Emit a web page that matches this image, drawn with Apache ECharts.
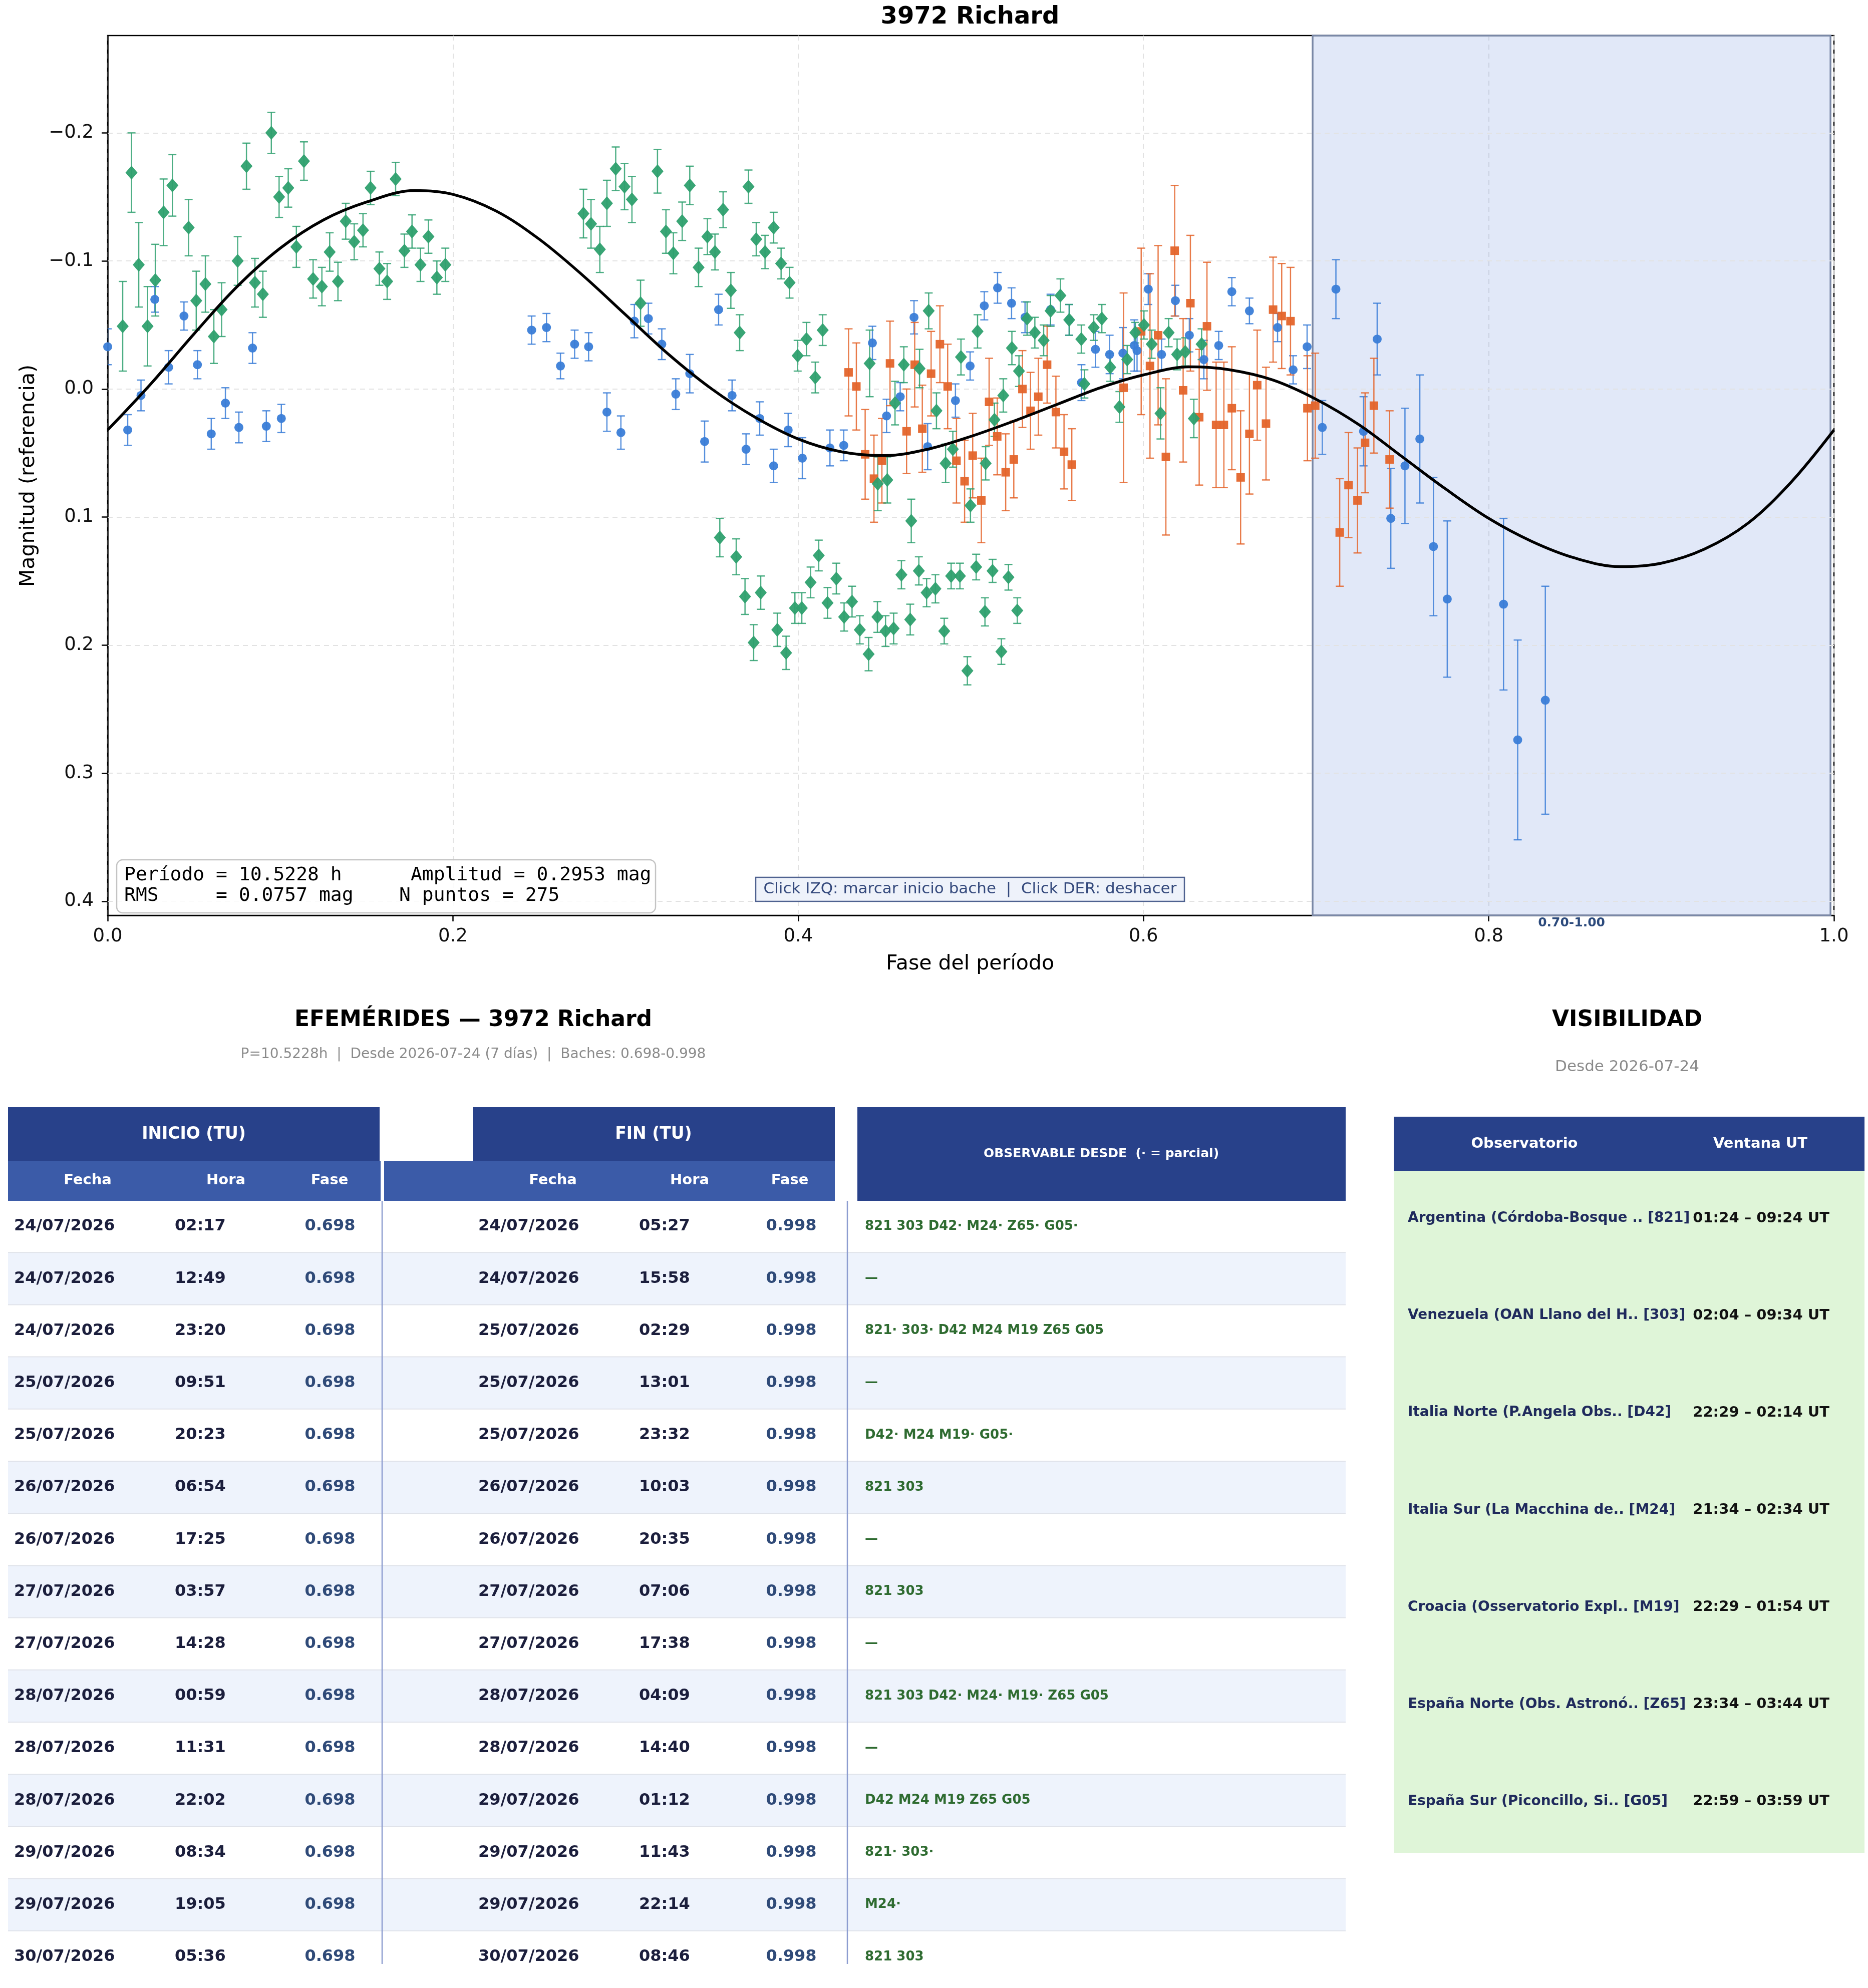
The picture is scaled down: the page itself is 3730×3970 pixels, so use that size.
<!DOCTYPE html>
<html>
<head>
<meta charset="utf-8">
<script src="https://cdn.jsdelivr.net/npm/echarts@6/dist/echarts.min.js"></script>
<style>
  html, body { margin: 0; padding: 0; background: #fff; }
  #main { width: 3730px; height: 3970px; }
</style>
</head>
<body>
<div id="main"></div>
<script>
// --- curva de ajuste (incluye los extremos) ---
const fitPhase = [0, 0.025, 0.05, 0.075, 0.1, 0.125, 0.15, 0.178, 0.2, 0.225, 0.25, 0.275, 0.3, 0.325, 0.35, 0.375, 0.4, 0.425, 0.45, 0.475, 0.5,
  0.525, 0.55, 0.575, 0.6, 0.627, 0.65, 0.675, 0.7, 0.725, 0.75, 0.775, 0.8, 0.825, 0.85, 0.876, 0.9, 0.925, 0.95, 0.975, 1.0];
const fitMag = [0.032, -0.004, -0.043, -0.080, -0.110, -0.132, -0.146, -0.155, -0.152, -0.139, -0.117, -0.089, -0.058, -0.027, 0.000, 0.022, 0.039, 0.049, 0.052, 0.047, 0.037,
  0.025, 0.012, -0.001, -0.011, -0.0173, -0.015, -0.007, 0.008, 0.028, 0.053, 0.078, 0.101, 0.119, 0.132, 0.1387, 0.136, 0.125, 0.105, 0.073, 0.032];

// --- sesión azul (círculos) ---
const bluePhase = [0.000, 0.0116, 0.0193, 0.0273, 0.0353, 0.0442, 0.052, 0.060, 0.0682, 0.076, 0.0839, 0.0919, 0.1006,
  0.2456, 0.2542, 0.2623, 0.2705, 0.2786, 0.2892, 0.2973, 0.3051, 0.3132, 0.321, 0.3291, 0.3372, 0.3458, 0.3539, 0.3617,
  0.3698, 0.3777, 0.3858, 0.3942, 0.4024, 0.4184, 0.4264, 0.443, 0.4512, 0.4591, 0.4671, 0.475, 0.4911, 0.4996, 0.5078,
  0.5155, 0.5236, 0.5314, 0.5462,
  0.557, 0.5641, 0.5722, 0.5804, 0.5881, 0.5947, 0.5963, 0.6028, 0.6105, 0.6185, 0.6266, 0.635, 0.6436, 0.6512, 0.6614, 0.6777, 0.6867,
  0.6948, 0.7036, 0.7115, 0.7275, 0.7354, 0.7433, 0.7515, 0.7601, 0.768, 0.776, 0.8086, 0.8168, 0.8328];
const blueMag = [-0.033, 0.032, 0.005, -0.070, -0.017, -0.057, -0.019, 0.035, 0.011, 0.030, -0.032, 0.029, 0.023,
  -0.046, -0.048, -0.018, -0.035, -0.033, 0.018, 0.034, -0.053, -0.055, -0.035, 0.004, -0.012, 0.041, -0.062, 0.005,
  0.047, 0.023, 0.060, 0.032, 0.054, 0.046, 0.044, -0.036, 0.021, 0.006, -0.056, 0.045, 0.009, -0.018, -0.065,
  -0.079, -0.067, -0.056, -0.062,
  -0.054, -0.005, -0.031, -0.027, -0.028, -0.034, -0.030, -0.078, -0.027, -0.069, -0.042, -0.023, -0.034, -0.076, -0.061, -0.048, -0.015,
  -0.033, 0.030, -0.078, 0.033, -0.039, 0.101, 0.060, 0.039, 0.123, 0.164, 0.168, 0.274, 0.243];
const blueErr = [0.014, 0.012, 0.012, 0.010, 0.013, 0.011, 0.011, 0.012, 0.012, 0.012, 0.012, 0.012, 0.011,
  0.011, 0.011, 0.010, 0.011, 0.011, 0.015, 0.013, 0.013, 0.012, 0.012, 0.012, 0.015, 0.016, 0.012, 0.012,
  0.012, 0.013, 0.013, 0.013, 0.016, 0.014, 0.012, 0.013, 0.013, 0.011, 0.013, 0.018, 0.013, 0.011, 0.011,
  0.012, 0.012, 0.012, 0.012,
  0.012, 0.014, 0.014, 0.015, 0.020, 0.020, 0.016, 0.012, 0.012, 0.012, 0.013, 0.015, 0.011, 0.011, 0.010, 0.011, 0.011,
  0.017, 0.021, 0.023, 0.027, 0.028, 0.039, 0.045, 0.050, 0.054, 0.061, 0.067, 0.078, 0.089];

// --- sesión verde (rombos) ---
const greenPhase = [0.0087, 0.0138, 0.018, 0.0231, 0.0276, 0.0324, 0.0375, 0.0469, 0.0513, 0.0566,
  0.0615, 0.066, 0.0753, 0.0804, 0.0853, 0.0899, 0.0948, 0.0993, 0.1046, 0.1093,
  0.1137, 0.119, 0.1241, 0.1286, 0.1334, 0.1379, 0.1428, 0.1479, 0.1523, 0.1574,
  0.1619, 0.1668, 0.1719, 0.1763, 0.1812, 0.1858, 0.1907, 0.1956,
  0.2756, 0.28, 0.2851, 0.2892, 0.2943, 0.2994, 0.3037, 0.3087, 0.3185, 0.3234,
  0.3277, 0.3328, 0.3372, 0.3423, 0.3474, 0.3518, 0.3565, 0.361, 0.3661, 0.3712,
  0.3757, 0.3808, 0.3858, 0.3901, 0.395, 0.3997, 0.4048, 0.4099, 0.4142,
  0.3546, 0.3641, 0.3692, 0.3742, 0.3783, 0.3879, 0.393, 0.3981, 0.4021, 0.4072,
  0.4119, 0.417, 0.4221, 0.4266, 0.4312, 0.4357, 0.4408, 0.4459, 0.4506, 0.4553,
  0.4598, 0.4649, 0.4699, 0.4744, 0.4795, 0.4846, 0.4886, 0.4937, 0.498, 0.5031,
  0.5082, 0.5126, 0.5177, 0.5218, 0.5269,
  0.4414, 0.4461, 0.4516, 0.4561, 0.4612, 0.4655, 0.4703, 0.4756, 0.4801, 0.4854,
  0.4896, 0.4943, 0.4998, 0.5039, 0.5086, 0.5137, 0.5188, 0.5238, 0.5279, 0.5326,
  0.5371, 0.5422, 0.5462,
  0.5519, 0.557, 0.564, 0.5658, 0.5712, 0.5759, 0.5808, 0.5861, 0.5906, 0.5953,
  0.6003, 0.6048, 0.6099, 0.6146, 0.6195, 0.6242, 0.6292, 0.6337];
const greenMag = [-0.049, -0.169, -0.097, -0.049, -0.085, -0.138, -0.159, -0.126, -0.069, -0.082,
  -0.041, -0.062, -0.100, -0.174, -0.083, -0.074, -0.200, -0.150, -0.157, -0.111,
  -0.178, -0.086, -0.080, -0.107, -0.084, -0.131, -0.115, -0.124, -0.157, -0.094,
  -0.084, -0.164, -0.108, -0.123, -0.097, -0.119, -0.087, -0.097,
  -0.137, -0.129, -0.109, -0.145, -0.172, -0.158, -0.148, -0.067, -0.170, -0.123,
  -0.106, -0.131, -0.159, -0.095, -0.119, -0.107, -0.140, -0.077, -0.044, -0.158,
  -0.117, -0.107, -0.126, -0.098, -0.083, -0.026, -0.039, -0.009, -0.046,
  0.116, 0.131, 0.162, 0.198, 0.159, 0.188, 0.206, 0.171, 0.171, 0.151,
  0.130, 0.167, 0.148, 0.178, 0.166, 0.188, 0.207, 0.178, 0.189, 0.187,
  0.145, 0.180, 0.142, 0.159, 0.156, 0.189, 0.146, 0.146, 0.220, 0.139,
  0.174, 0.142, 0.205, 0.147, 0.173,
  -0.020, 0.074, 0.071, 0.011, -0.019, 0.103, -0.016, -0.061, 0.017, 0.058,
  0.047, -0.025, 0.091, -0.045, 0.058, 0.024, 0.005, -0.032, -0.014, -0.055,
  -0.044, -0.038, -0.061,
  -0.073, -0.054, -0.039, -0.004, -0.048, -0.055, -0.017, 0.014, -0.023, -0.044,
  -0.050, -0.035, 0.019, -0.044, -0.027, -0.029, 0.023, -0.035];
const greenErr = [0.035, 0.031, 0.033, 0.031, 0.028, 0.026, 0.024, 0.022, 0.023, 0.022,
  0.021, 0.021, 0.019, 0.018, 0.019, 0.018, 0.016, 0.016, 0.015, 0.016,
  0.015, 0.015, 0.015, 0.015, 0.015, 0.014, 0.014, 0.013, 0.013, 0.013,
  0.014, 0.013, 0.013, 0.013, 0.013, 0.013, 0.013, 0.013,
  0.019, 0.019, 0.018, 0.018, 0.017, 0.018, 0.018, 0.018, 0.017, 0.017,
  0.016, 0.015, 0.015, 0.015, 0.014, 0.014, 0.014, 0.014, 0.014, 0.013,
  0.013, 0.013, 0.012, 0.012, 0.012, 0.012, 0.013, 0.012, 0.012,
  0.015, 0.014, 0.014, 0.014, 0.013, 0.013, 0.013, 0.012, 0.012, 0.012,
  0.012, 0.012, 0.012, 0.011, 0.012, 0.011, 0.013, 0.012, 0.012, 0.012,
  0.011, 0.012, 0.011, 0.011, 0.011, 0.010, 0.010, 0.010, 0.011, 0.010,
  0.011, 0.009, 0.010, 0.010, 0.010,
  0.026, 0.021, 0.018, 0.017, 0.014, 0.017, 0.015, 0.014, 0.014, 0.015,
  0.014, 0.014, 0.013, 0.013, 0.013, 0.013, 0.013, 0.013, 0.012, 0.013,
  0.012, 0.012, 0.012,
  0.013, 0.012, 0.011, 0.011, 0.010, 0.011, 0.011, 0.012, 0.011, 0.008,
  0.011, 0.011, 0.020, 0.011, 0.012, 0.011, 0.015, 0.012];

// --- sesión naranja (cuadrados) ---
const orangePhase = [0.4292, 0.4337, 0.4388, 0.4439, 0.4485, 0.4532, 0.4628, 0.4675, 0.4719, 0.477,
  0.4821, 0.4866, 0.4917, 0.4964, 0.5011, 0.5061, 0.5106, 0.5153, 0.5202, 0.5249,
  0.5299, 0.5346, 0.5391, 0.5442,
  0.5493, 0.554, 0.5585, 0.5885, 0.5987, 0.6038, 0.6085, 0.613, 0.6181, 0.623,
  0.6272, 0.6323, 0.6368, 0.6421, 0.6466, 0.6512, 0.6563, 0.6614, 0.6659, 0.671,
  0.6751, 0.6801, 0.6852, 0.695, 0.6995, 0.7137, 0.7188, 0.724, 0.7284, 0.7335, 0.7426];
const orangeMag = [-0.013, -0.002, 0.051, 0.070, 0.056, -0.020, 0.033, -0.019, 0.031, -0.012,
  -0.035, -0.002, 0.056, 0.072, 0.052, 0.087, 0.010, 0.037, 0.065, 0.055,
  0.000, 0.017, 0.006, -0.019,
  0.018, 0.049, 0.059, -0.001, -0.045, -0.018, -0.042, 0.053, -0.108, 0.001,
  -0.067, 0.022, -0.049, 0.028, 0.028, 0.015, 0.069, 0.035, -0.003, 0.027,
  -0.062, -0.057, -0.053, 0.015, 0.013, 0.112, 0.075, 0.087, 0.042, 0.013, 0.055];
const orangeErr = [0.034, 0.034, 0.035, 0.034, 0.033, 0.033, 0.033, 0.033, 0.034, 0.033,
  0.030, 0.033, 0.033, 0.032, 0.033, 0.033, 0.034, 0.030, 0.030, 0.030,
  0.030, 0.030, 0.030, 0.030,
  0.028, 0.029, 0.028, 0.074, 0.065, 0.072, 0.070, 0.061, 0.051, 0.056,
  0.053, 0.053, 0.050, 0.049, 0.049, 0.048, 0.052, 0.047, 0.043, 0.044,
  0.041, 0.041, 0.042, 0.041, 0.041, 0.042, 0.041, 0.041, 0.039, 0.037, 0.038];

const yTicks = [-0.2, -0.1, 0, 0.1, 0.2, 0.3, 0.4];
const bache = [0.698, 0.998];
const bacheLabel = "0.70-1.00";

const infoLines = [
  "Período = 10.5228 h      Amplitud = 0.2953 mag",
  "RMS     = 0.0757 mag    N puntos = 275",
];
const hintText = "Click IZQ: marcar inicio bache  |  Click DER: deshacer";

// --- efemérides ---
const ephemTitle = "EFEMÉRIDES — 3972 Richard";
const ephemSubtitle = "P=10.5228h  |  Desde 2026-07-24 (7 días)  |  Baches: 0.698-0.998";
const ephemGroups = ["INICIO (TU)", "FIN (TU)", "OBSERVABLE DESDE  (· = parcial)"];
const ephemCols = ["Fecha", "Hora", "Fase"];
const startDate = ["24/07/2026", "24/07/2026", "24/07/2026", "25/07/2026", "25/07/2026", "26/07/2026", "26/07/2026", "27/07/2026",
  "27/07/2026", "28/07/2026", "28/07/2026", "28/07/2026", "29/07/2026", "29/07/2026", "30/07/2026"];
const startTime = ["02:17", "12:49", "23:20", "09:51", "20:23", "06:54", "17:25", "03:57", "14:28", "00:59", "11:31", "22:02", "08:34", "19:05", "05:36"];
const startPhase = ["0.698", "0.698", "0.698", "0.698", "0.698", "0.698", "0.698", "0.698", "0.698", "0.698", "0.698", "0.698", "0.698", "0.698", "0.698"];
const endDate = ["24/07/2026", "24/07/2026", "25/07/2026", "25/07/2026", "25/07/2026", "26/07/2026", "26/07/2026", "27/07/2026",
  "27/07/2026", "28/07/2026", "28/07/2026", "29/07/2026", "29/07/2026", "29/07/2026", "30/07/2026"];
const endTime = ["05:27", "15:58", "02:29", "13:01", "23:32", "10:03", "20:35", "07:06", "17:38", "04:09", "14:40", "01:12", "11:43", "22:14", "08:46"];
const endPhase = ["0.998", "0.998", "0.998", "0.998", "0.998", "0.998", "0.998", "0.998", "0.998", "0.998", "0.998", "0.998", "0.998", "0.998", "0.998"];
const observable = ["821 303 D42· M24· Z65· G05·", "—", "821· 303· D42 M24 M19 Z65 G05", "—", "D42· M24 M19· G05·", "821 303", "—",
  "821 303", "—", "821 303 D42· M24· M19· Z65 G05", "—", "D42 M24 M19 Z65 G05", "821· 303·", "M24·", "821 303"];

// --- visibilidad ---
const visTitle = "VISIBILIDAD";
const visSubtitle = "Desde 2026-07-24";
const visCols = ["Observatorio", "Ventana UT"];
const observatories = ["Argentina (Córdoba-Bosque .. [821]", "Venezuela (OAN Llano del H.. [303]", "Italia Norte (P.Angela Obs.. [D42]",
  "Italia Sur (La Macchina de.. [M24]", "Croacia (Osservatorio Expl.. [M19]", "España Norte (Obs. Astronó.. [Z65]", "España Sur (Piconcillo, Si.. [G05]"];
const windowsUT = ["01:24 – 09:24 UT", "02:04 – 09:34 UT", "22:29 – 02:14 UT", "21:34 – 02:34 UT", "22:29 – 01:54 UT", "23:34 – 03:44 UT", "22:59 – 03:59 UT"];

const FONT = "DejaVu Sans";
const BLUE = "#3a7dd7", GREEN = "#2ea06e", ORANGE = "#e4642a";
const DARK = "#28418a", SUB = "#3b5ba8";

const pts = (p, m) => p.map((x, i) => [x, m[i]]);
const errs = (p, m, e) => p.map((x, i) => [x, m[i], e[i]]);

function errorBars(color) {
  return function (params, api) {
    const x = api.value(0), y = api.value(1), e = api.value(2);
    const a = api.coord([x, y - e]);
    const b = api.coord([x, y + e]);
    const hw = 8;
    const style = { stroke: color, lineWidth: 2.5, opacity: 0.85 };
    return {
      type: "group",
      children: [
        { type: "line", shape: { x1: a[0], y1: a[1], x2: b[0], y2: b[1] }, style: style },
        { type: "line", shape: { x1: a[0] - hw, y1: a[1], x2: a[0] + hw, y2: a[1] }, style: style },
        { type: "line", shape: { x1: b[0] - hw, y1: b[1], x2: b[0] + hw, y2: b[1] }, style: style },
      ],
    };
  };
}

const g = [];
function txt(x, y, s, o) {
  g.push({ type: "text", x: x, y: y, silent: true, z: 50,
    style: Object.assign({ text: s, fontFamily: FONT, fontSize: 30, align: "center", verticalAlign: "middle", fill: "#000" }, o) });
}
function box(x, y, w, h, o, z) {
  g.push({ type: "rect", silent: true, z: z || 10, shape: { x: x, y: y, width: w, height: h, r: (o && o.r) || 0 }, style: o });
}
function hline(x1, y1, x2, y2, color, w) {
  g.push({ type: "line", silent: true, z: 20, shape: { x1: x1, y1: y1, x2: x2, y2: y2 }, style: { stroke: color, lineWidth: w } });
}

// títulos y ejes del gráfico
txt(1937, 35, "3972 Richard", { fontSize: 48, fontWeight: "bold" });
txt(1937, 1925, "Fase del período", { fontSize: 41 });
g.push({ type: "text", x: 57, y: 950, rotation: Math.PI / 2, silent: true, z: 50,
  style: { text: "Magnitud (referencia)", fontFamily: FONT, fontSize: 41, align: "center", verticalAlign: "middle", fill: "#000" } });

// caja de resultados
box(233, 1717, 1076, 106, { fill: "rgba(255,255,255,0.85)", stroke: "#c4c4c4", lineWidth: 2.5, r: 12 }, 60);
infoLines.forEach((l, i) => {
  g.push({ type: "text", x: 248, y: 1748 + i * 41, silent: true, z: 61,
    style: { text: l, fontFamily: "DejaVu Sans Mono", fontSize: 38, align: "left", verticalAlign: "middle", fill: "#000" } });
});
box(1509, 1752, 856, 48, { fill: "#eef2fa", stroke: "#4f6290", lineWidth: 2.5 }, 60);
g.push({ type: "text", x: 1937, y: 1776, silent: true, z: 61,
  style: { text: hintText, fontFamily: FONT, fontSize: 31, align: "center", verticalAlign: "middle", fill: "#34497c" } });

// tabla de efemérides
txt(945, 2038, ephemTitle, { fontSize: 44, fontWeight: "bold" });
txt(945, 2106, ephemSubtitle, { fontSize: 28, fill: "#8a8a8a" });
box(16, 2211, 742, 107, { fill: DARK });
box(944, 2211, 723, 107, { fill: DARK });
box(1712, 2211, 975, 187, { fill: DARK });
box(16, 2318, 744, 80, { fill: SUB });
box(767, 2318, 900, 80, { fill: SUB });
txt(387, 2265, ephemGroups[0], { fontSize: 33, fontWeight: "bold", fill: "#fff" });
txt(1305, 2265, ephemGroups[1], { fontSize: 33, fontWeight: "bold", fill: "#fff" });
txt(2199, 2304, ephemGroups[2], { fontSize: 25, fontWeight: "bold", fill: "#fff" });
[175, 451, 658, 1104, 1377, 1577].forEach((cx, i) => {
  txt(cx, 2357, ephemCols[i % 3], { fontSize: 29, fontWeight: "bold", fill: "#fff" });
});
const rowH = 104.2, row0 = 2397;
startDate.forEach((d, i) => {
  const y0 = row0 + i * rowH, cy = y0 + rowH / 2;
  if (i % 2 === 1) box(16, y0, 2671, rowH, { fill: "#eef3fc" }, 5);
  if (i > 0) hline(16, y0, 2687, y0, "#e0e3ea", 2);
  const dark = { fontSize: 32, fontWeight: "bold", fill: "#1b1e3c", align: "left" };
  const fase = { fontSize: 32, fontWeight: "bold", fill: "#2f4a78" };
  txt(28, cy, d, dark);
  txt(349, cy, startTime[i], dark);
  txt(659, cy, startPhase[i], fase);
  txt(955, cy, endDate[i], dark);
  txt(1276, cy, endTime[i], dark);
  txt(1580, cy, endPhase[i], fase);
  txt(1727, cy, observable[i], { fontSize: 26, fontWeight: "bold", fill: "#2e6b30", align: "left" });
});
hline(763, 2398, 763, 3922, "#8d9dd0", 2.5);
hline(1692, 2398, 1692, 3922, "#8d9dd0", 2.5);

// tabla de visibilidad
txt(3249, 2038, visTitle, { fontSize: 44, fontWeight: "bold" });
txt(3249, 2131, visSubtitle, { fontSize: 31, fill: "#8a8a8a" });
box(2783, 2230, 940, 108, { fill: DARK });
box(2783, 2338, 940, 1362, { fill: "#dff5d8" });
txt(3044, 2284, visCols[0], { fontSize: 29, fontWeight: "bold", fill: "#fff" });
txt(3515, 2284, visCols[1], { fontSize: 29, fontWeight: "bold", fill: "#fff" });
observatories.forEach((o, i) => {
  const cy = 2433 + i * 194.1;
  txt(2811, cy, o, { fontSize: 28, fontWeight: "bold", fill: "#1f2a5c", align: "left" });
  txt(3653, cy, windowsUT[i], { fontSize: 29, fontWeight: "bold", fill: "#111", align: "right" });
});

const chart = echarts.init(document.getElementById("main"), null, { renderer: "canvas", width: 3730, height: 3970 });

chart.setOption({
  animation: false,
  backgroundColor: "#fff",
  grid: { left: 215, top: 71, width: 3447, height: 1757, show: true, borderColor: "#000", borderWidth: 2.5, backgroundColor: "transparent" },
  xAxis: {
    type: "value", min: 0, max: 1, interval: 0.2,
    axisLine: { onZero: false, lineStyle: { color: "#000", width: 2.5 } },
    axisTick: { length: 12, lineStyle: { color: "#000", width: 2.5 } },
    axisLabel: { margin: 24, fontSize: 37, color: "#111", fontFamily: FONT, showMinLabel: true, showMaxLabel: true,
      formatter: (v) => v.toFixed(1) },
    splitLine: { show: true, lineStyle: { type: [10, 8], color: "#e2e2e2", width: 2 } },
  },
  yAxis: {
    type: "value", inverse: true, min: -0.276, max: 0.411,
    axisLine: { onZero: false, lineStyle: { color: "#000", width: 2.5 } },
    axisTick: { length: 12, customValues: yTicks, lineStyle: { color: "#000", width: 2.5 } },
    axisLabel: { margin: 28, fontSize: 37, color: "#111", fontFamily: FONT, customValues: yTicks,
      formatter: (v) => (v < -1e-9 ? "\u2212" + Math.abs(v).toFixed(1) : Math.abs(v).toFixed(1)) },
    splitLine: { show: false },
  },
  graphic: g,
  series: [
    {
      type: "custom", name: "err-azul", z: 2, clip: true,
      renderItem: errorBars(BLUE), data: errs(bluePhase, blueMag, blueErr),
      markLine: {
        silent: true, symbol: ["none", "none"], z: 1, label: { show: false },
        lineStyle: { type: [10, 8], color: "#e2e2e2", width: 2 },
        data: yTicks.map((v) => ({ yAxis: v })),
      },
      markArea: {
        silent: true, z: 1,
        itemStyle: { color: "rgba(90,130,215,0.18)", borderColor: "#7a88a6", borderWidth: 3.5 },
        label: { show: true, position: "bottom", distance: 1, formatter: bacheLabel, fontSize: 25, fontWeight: "bold",
          fontFamily: FONT, color: "#2c4a7c" },
        data: [[{ xAxis: bache[0] }, { xAxis: bache[1] }]],
      },
    },
    { type: "custom", name: "err-naranja", z: 2, clip: true, renderItem: errorBars(ORANGE), data: errs(orangePhase, orangeMag, orangeErr) },
    { type: "custom", name: "err-verde", z: 2, clip: true, renderItem: errorBars(GREEN), data: errs(greenPhase, greenMag, greenErr) },
    { type: "scatter", name: "azul", z: 3, symbol: "circle", symbolSize: 18, itemStyle: { color: BLUE, opacity: 0.95 }, data: pts(bluePhase, blueMag) },
    { type: "scatter", name: "naranja", z: 3, symbol: "rect", symbolSize: 17, itemStyle: { color: ORANGE, opacity: 0.95 }, data: pts(orangePhase, orangeMag) },
    { type: "scatter", name: "verde", z: 3, symbol: "diamond", symbolSize: [24, 28], itemStyle: { color: GREEN, opacity: 0.95 }, data: pts(greenPhase, greenMag) },
    {
      type: "line", name: "ajuste", z: 5, smooth: 0.35, showSymbol: false, silent: true,
      lineStyle: { color: "#000", width: 5.5 }, data: pts(fitPhase, fitMag),
    },
  ],
});
</script>
</body>
</html>
